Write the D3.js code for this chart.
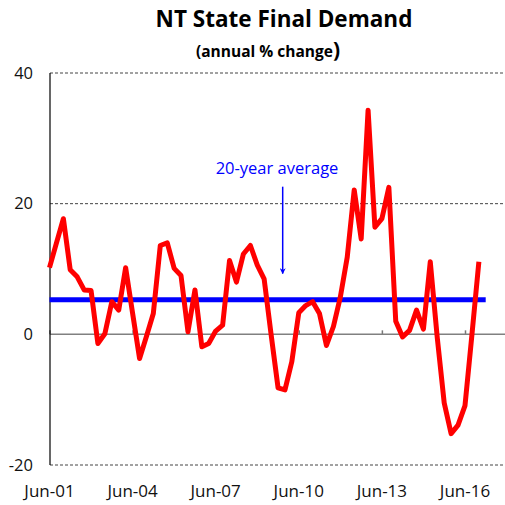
<!DOCTYPE html>
<html>
<head>
<meta charset="utf-8">
<script src="https://cdn.jsdelivr.net/npm/d3@7"></script>
<style>
  body { margin: 0; background: #fff; }
  text { font-family: "Open Sans", sans-serif; }
</style>
</head>
<body>
<div id="chart"></div>
<script>
// quarterly, Jun-01 .. Dec-16
var firstQuarter = new Date(2001, 5, 1);
var sfd = [10.2, 14.0, 17.7, 9.9, 8.8, 6.8, 6.7, -1.4, 0.1, 5.0, 3.7, 10.2,
           3.2, -3.7, -0.3, 3.2, 13.6, 14.0, 10.1, 9.0, 0.4, 6.8, -1.9, -1.4,
           0.5, 1.4, 11.3, 8.0, 12.3, 13.6, 10.6, 8.5, 0.0, -8.2, -8.5, -4.2,
           3.3, 4.4, 5.0, 3.2, -1.7, 1.2, 5.7, 11.8, 22.1, 14.6, 34.3, 16.4,
           17.7, 22.5, 2.0, -0.4, 0.6, 3.7, 0.8, 11.1, -0.5, -10.5, -15.2, -13.9,
           -10.9, 0.0, 11.1];
var average = 5.3;
var yTicks = [-20, 0, 20, 40];
var xTickLabels = ["Jun-01", "Jun-04", "Jun-07", "Jun-10", "Jun-13", "Jun-16"];

var width = 505;
var height = 505;

var dates = sfd.map(function(d, i){ return d3.timeMonth.offset(firstQuarter, i * 3); });
var tickDates = xTickLabels.map(function(d){
  return new Date(2000 + (+d.slice(4)), 5, 1);
});

var svg = d3.select('#chart')
            .append('svg')
            .attr('width', width)
            .attr('height', height);

var x = d3.scaleTime()
          .domain([firstQuarter, new Date(2016, 5, 1)])
          .range([49.5, 465]);
var y = d3.scaleLinear().domain([-20, 40]).range([465, 73]);

// gridlines
svg.selectAll('.grid')
   .data([-20, 20, 40])
   .enter()
   .append('line')
   .attr('x1', 50).attr('x2', 505)
   .attr('y1', function(d){ return y(d); })
   .attr('y2', function(d){ return y(d); })
   .attr('stroke', '#444')
   .attr('stroke-width', 1)
   .attr('stroke-dasharray', '3,2');

// zero axis with ticks pointing up
var xaxis = d3.axisTop(x)
              .tickValues(tickDates)
              .tickSize(4)
              .tickFormat('');
var gx = svg.append('g').attr('transform', 'translate(0,' + y(0) + ')').call(xaxis);
gx.select('.domain').remove();
gx.selectAll('line').attr('stroke', '#777').attr('stroke-width', 1.5);
svg.append('line')
   .attr('x1', 50).attr('x2', 505)
   .attr('y1', y(0)).attr('y2', y(0))
   .attr('stroke', '#808080').attr('stroke-width', 1.5);

// left axis
svg.append('line')
   .attr('x1', 50).attr('x2', 50)
   .attr('y1', y(40)).attr('y2', y(-20))
   .attr('stroke', '#000').attr('stroke-width', 1.2);

// y labels
svg.selectAll('.ylab')
   .data(yTicks)
   .enter()
   .append('text')
   .attr('x', 33)
   .attr('y', function(d){ return y(d); })
   .attr('dy', '0.35em')
   .attr('text-anchor', 'end')
   .attr('font-size', 16.5)
   .attr('fill', '#111')
   .text(function(d){ return d; });

// x labels
svg.selectAll('.xlab')
   .data(tickDates)
   .enter()
   .append('text')
   .attr('x', function(d){ return x(d); })
   .attr('y', 497)
   .attr('text-anchor', 'middle')
   .attr('font-size', 17)
   .attr('fill', '#111')
   .text(function(d, i){ return xTickLabels[i]; });

// average line
svg.append('line')
   .attr('x1', x(dates[0]))
   .attr('x2', x(d3.timeMonth.offset(dates[dates.length - 1], 3)))
   .attr('y1', y(average)).attr('y2', y(average))
   .attr('stroke', '#0000ff')
   .attr('stroke-width', 5);

// series
var line = d3.line()
             .x(function(d, i){ return x(dates[i]); })
             .y(function(d){ return y(d); });
svg.append('path')
   .datum(sfd)
   .attr('d', line)
   .attr('fill', 'none')
   .attr('stroke', '#ff0000')
   .attr('stroke-width', 5)
   .attr('stroke-linejoin', 'round');

// annotation
var arrowX = x(new Date(2009, 10, 1));
svg.append('defs').append('marker')
   .attr('id', 'head')
   .attr('viewBox', '0 0 10 10')
   .attr('refX', 9).attr('refY', 5)
   .attr('markerWidth', 4).attr('markerHeight', 4)
   .attr('orient', 'auto')
   .append('path')
   .attr('d', 'M0,0L10,5L0,10L3,5z')
   .attr('fill', '#0000ff');
svg.append('line')
   .attr('x1', arrowX).attr('x2', arrowX)
   .attr('y1', y(22.6)).attr('y2', y(9.3))
   .attr('stroke', '#0000ff')
   .attr('stroke-width', 1.5)
   .attr('marker-end', 'url(#head)');
svg.append('text')
   .attr('x', 277)
   .attr('y', y(24.5))
   .attr('text-anchor', 'middle')
   .attr('font-size', 16.5)
   .attr('fill', '#0000ff')
   .text('20-year average');

// titles
svg.append('text')
   .attr('x', 284).attr('y', 27)
   .attr('text-anchor', 'middle')
   .attr('font-size', 22.5)
   .attr('font-weight', 'bold')
   .text('NT State Final Demand');
var sub = svg.append('text')
   .attr('x', 268).attr('y', 57)
   .attr('text-anchor', 'middle')
   .attr('font-size', 15.5)
   .attr('font-weight', 'bold');
sub.append('tspan').text('(annual % change');
sub.append('tspan').attr('font-size', 21).text(')');
</script>
</body>
</html>
